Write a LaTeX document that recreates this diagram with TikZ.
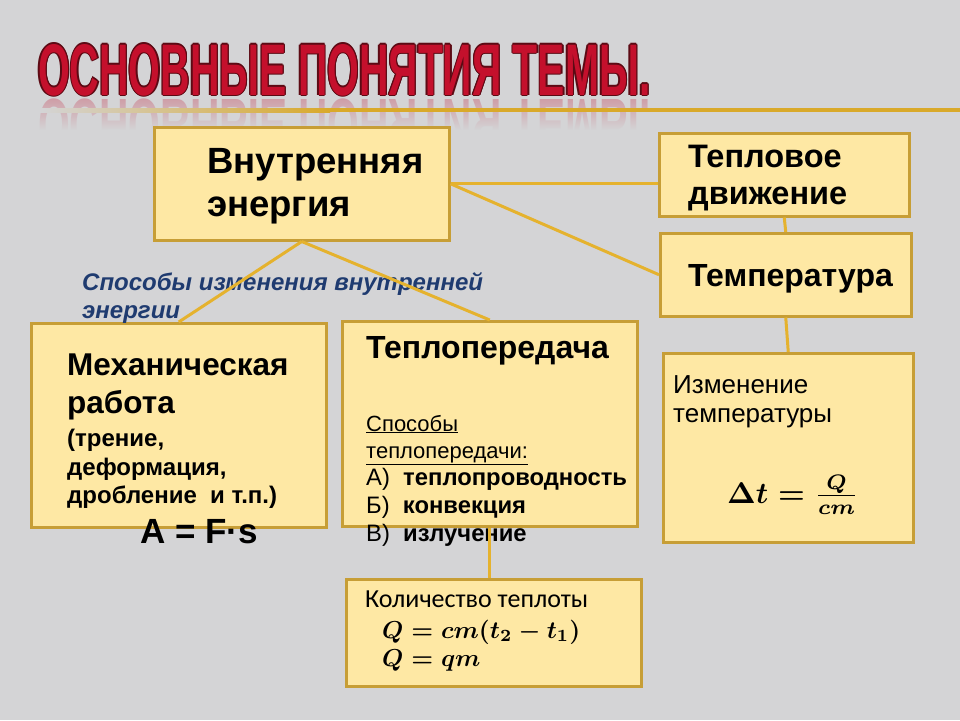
\documentclass[tikz,border=0pt]{standalone}
\usepackage{graphicx}
\usepackage{fontspec}
\setmainfont{Liberation Sans}
\newfontfamily\calfont{Carlito}
\usetikzlibrary{fadings}
\definecolor{bg}{HTML}{D4D4D6}
\definecolor{boxfill}{HTML}{FEE8A4}
\definecolor{boxline}{HTML}{C79E36}
\definecolor{conn}{HTML}{E5B22E}
\definecolor{titlered}{HTML}{C4102C}
\definecolor{titledark}{HTML}{5C0A14}
\definecolor{titlegold}{HTML}{D9A92A}
\definecolor{navy}{HTML}{1F3B70}
\tikzfading[name=reflfade, top color=transparent!100, bottom color=transparent!0]
\newcommand\fs[1]{\fontsize{#1}{#1}\selectfont}
\newcommand\titletext{\resizebox{612pt}{51pt}{\bfseries ОСНОВНЫЕ ПОНЯТИЯ ТЕМЫ.}}
\newcommand\bigmath[2]{\scalebox{#1}{\normalsize\boldmath$#2$}}
\begin{document}
\begin{tikzpicture}[x=1pt,y=-1pt,
  box/.style={draw=boxline, fill=boxfill, line width=2.5pt, anchor=north west, inner sep=0pt},
  link/.style={draw=conn, line width=3pt},
  txt/.style={anchor=base west, inner sep=0pt, text=black},
  ttl/.style={anchor=base west, inner sep=0pt}
]
\fill[bg] (0,0) rectangle (960,720);
\useasboundingbox (0,0) rectangle (960,720);

% title reflection
\node[ttl, yscale=-1, transform shape, text=titlered, opacity=0.28] (trefl) at (38,99) {\titletext};
\fill[bg, path fading=reflfade] (30,98) rectangle (660,130);
\fill[bg] (30,130) rectangle (660,152);
% title with fake outline
\node[ttl, text=titledark] (to1) at (36.8,95) {\titletext};
\node[ttl, text=titledark] (to2) at (39.2,95) {\titletext};
\node[ttl, text=titledark] (to3) at (38,93.8) {\titletext};
\node[ttl, text=titledark] (to4) at (38,96.2) {\titletext};
\node[ttl, text=titledark] (to5) at (37.1,94.1) {\titletext};
\node[ttl, text=titledark] (to6) at (38.9,95.9) {\titletext};
\node[ttl, text=titledark] (to7) at (37.1,95.9) {\titletext};
\node[ttl, text=titledark] (to8) at (38.9,94.1) {\titletext};
\node[ttl, text=titlered] (title) at (38,95) {\titletext};
% gold rule
\shade[left color=bg, right color=titlegold] (40,108) rectangle (330,112);
\fill[titlegold] (330,108) rectangle (960,112);

% boxes
\node[box, minimum width=295, minimum height=113] (ve) at (153,126) {};
\node[box, minimum width=250, minimum height=83] (td) at (658,132) {};
\node[box, minimum width=251, minimum height=83] (temp) at (659,232) {};
\node[box, minimum width=295, minimum height=204] (mr) at (30,322) {};
\node[box, minimum width=295, minimum height=205] (tp) at (341,320) {};
\node[box, minimum width=250, minimum height=189] (it) at (662,352) {};
\node[box, minimum width=295, minimum height=107] (kt) at (345,578) {};

% texts
\node[txt] (ve1) at (207,173) {\fs{36.5}\bfseries Внутренняя};
\node[txt] (ve2) at (207,216) {\fs{36.5}\bfseries энергия};
\node[txt] (td1) at (688,167) {\fs{32.5}\bfseries Тепловое};
\node[txt] (td2) at (688,204) {\fs{32.5}\bfseries движение};
\node[txt] (temp1) at (688,286) {\fs{32}\bfseries Температура};
\node[txt, text=navy] (sp1) at (82,290) {\fs{24}\bfseries\itshape Способы изменения внутренней};
\node[txt, text=navy] (sp2) at (82,318) {\fs{24}\bfseries\itshape энергии};
\node[txt] (mr1) at (67,375) {\fs{31.5}\bfseries Механическая};
\node[txt] (mr2) at (67,413) {\fs{31.5}\bfseries работа};
\node[txt] (mr3) at (67,446) {\fs{24}\bfseries (трение,};
\node[txt] (mr4) at (67,475) {\fs{24}\bfseries деформация,};
\node[txt] (mr5) at (67,503) {\fs{24}\bfseries дробление\ \ и т.п.)};
\node[txt] (afs) at (140,543) {\fs{35}\bfseries A = F·s};
\node[txt] (tp1) at (366,358) {\fs{32}\bfseries Теплопередача};
\node[txt] (tp2) at (366,431) {\fs{22}\underline{Способы}};
\node[txt] (tp3) at (366,458) {\fs{22}\underline{теплопередачи:}};
\node[txt] (tp4) at (366,485) {\fs{23.8}А)\ \ \bfseries теплопроводность};
\node[txt] (tp5) at (366,513) {\fs{23.8}Б)\ \ \bfseries конвекция};
\node[txt] (tp6) at (366,541) {\fs{23.8}В)\ \ \bfseries излучение};
\node[txt] (it1) at (673,393) {\fs{26}Изменение};
\node[txt] (it2) at (673,422) {\fs{26}температуры};
\node[txt] (it3) at (727,503) {\bigmath{3}{\Delta t=\frac{Q}{cm}}};
\node[txt] (kt1) at (365,607) {\fs{26}\calfont Количество теплоты};
\node[txt] (kt2) at (382,638) {\bigmath{2.45}{Q=cm(t_2-t_1)}};
\node[txt] (kt3) at (382,666) {\bigmath{2.45}{Q=qm}};

% connectors
\draw[link] (ve.east) -- (ve.east -| td.west);
\draw[link] (ve.east) -- (temp.west);
\draw[link] (td.south) -- (temp.north);
\draw[link] (temp.south) -- (it.north);
\draw[link] (ve.south) -- (mr.north);
\draw[link] (ve.south) -- (tp.north);
\draw[link] (tp.south) -- (tp.south |- kt.north);
\end{tikzpicture}
\end{document}
